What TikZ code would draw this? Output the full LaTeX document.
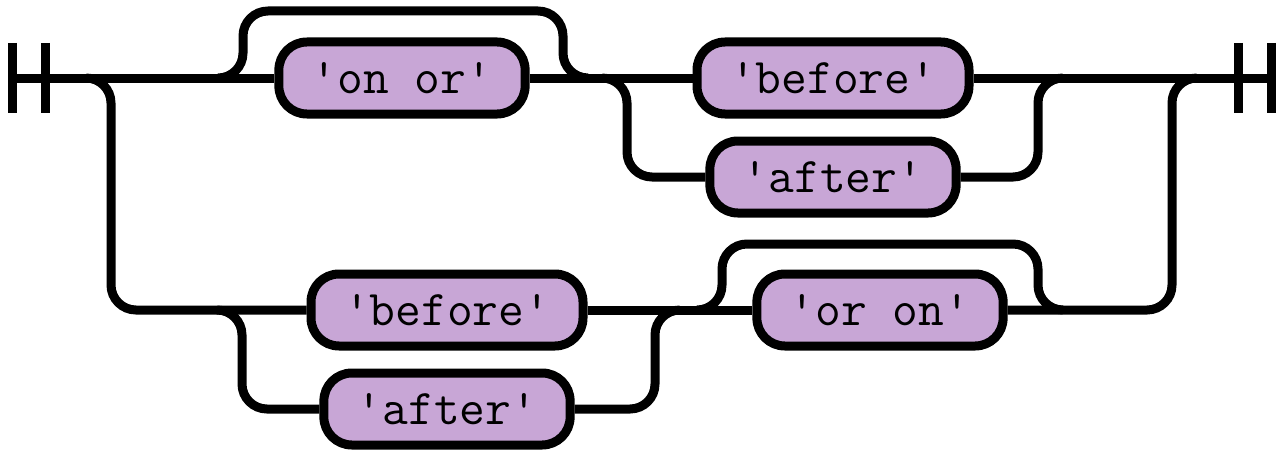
\documentclass[tikz,border=0pt]{standalone}
\usepackage{fontspec}
\definecolor{termfill}{RGB}{200,166,214}
\tikzset{
  rail/.style={line width=9pt, rounded corners=25pt},
  bar/.style={line width=9pt},
  term/.style={draw, fill=termfill, line width=9pt, rounded corners=28pt,
    minimum height=72pt, inner xsep=33pt, inner ysep=0pt,
    font=\ttfamily\fontsize{50pt}{54pt}\selectfont}
}
\begin{document}
\begin{tikzpicture}[x=1pt,y=-1pt]
\useasboundingbox (0,0) rectangle (1279,452);
% end markers
\coordinate (start) at (12,78);
\coordinate (start2) at (45,78);
\coordinate (stop2) at (1238,78);
\coordinate (stop) at (1271,78);
\foreach \b in {start,start2,stop2,stop}
  \draw[bar] (\b) ++(0,-35) -- ++(0,70);
% terminals
\node[term] (onor) at (402,78) {'on or'};
\node[term] (before1) at (833,78) {'before'};
\node[term] (after1) at (833,177) {'after'};
\node[term] (before2) at (447,310) {'before'};
\node[term] (after2) at (447,409) {'after'};
\node[term] (oron) at (880,310) {'or on'};
% forks and joins
\coordinate (fork0) at (86,78);
\coordinate (fork1) at (218,78);
\coordinate (join1) at (588,78);
\coordinate (fork4) at (602,78);
\coordinate (join5) at (1063,78);
\coordinate (join4) at (1197,78);
\coordinate (fork2) at (217,310);
\coordinate (join2) at (680,310);
\coordinate (fork3) at (697,310);
\coordinate (join3) at (1063,310);
% upper track
\draw[rail] (start) -- (onor.west);
\draw[rail] (onor.east) -- (before1.west);
\draw[rail] (before1.east) -- (stop);
\draw[rail] (fork1) -| (243,11) -| (563,78) -- (join1);
\draw[rail] (fork4) -| (627,177) -- (after1.west);
\draw[rail] (after1.east) -| (1038,78) -- (join5);
% lower track
\draw[rail] (fork0) -| (111,310) -- (before2.west);
\draw[rail] (fork2) -| (242,409) -- (after2.west);
\draw[rail] (after2.east) -| (655,310) -- (join2);
\draw[rail] (before2.east) -- (oron.west);
\draw[rail] (fork3) -| (722,244) -| (1038,310) -- (join3);
\draw[rail] (oron.east) -| (1172,78) -- (join4);
\end{tikzpicture}
\end{document}
